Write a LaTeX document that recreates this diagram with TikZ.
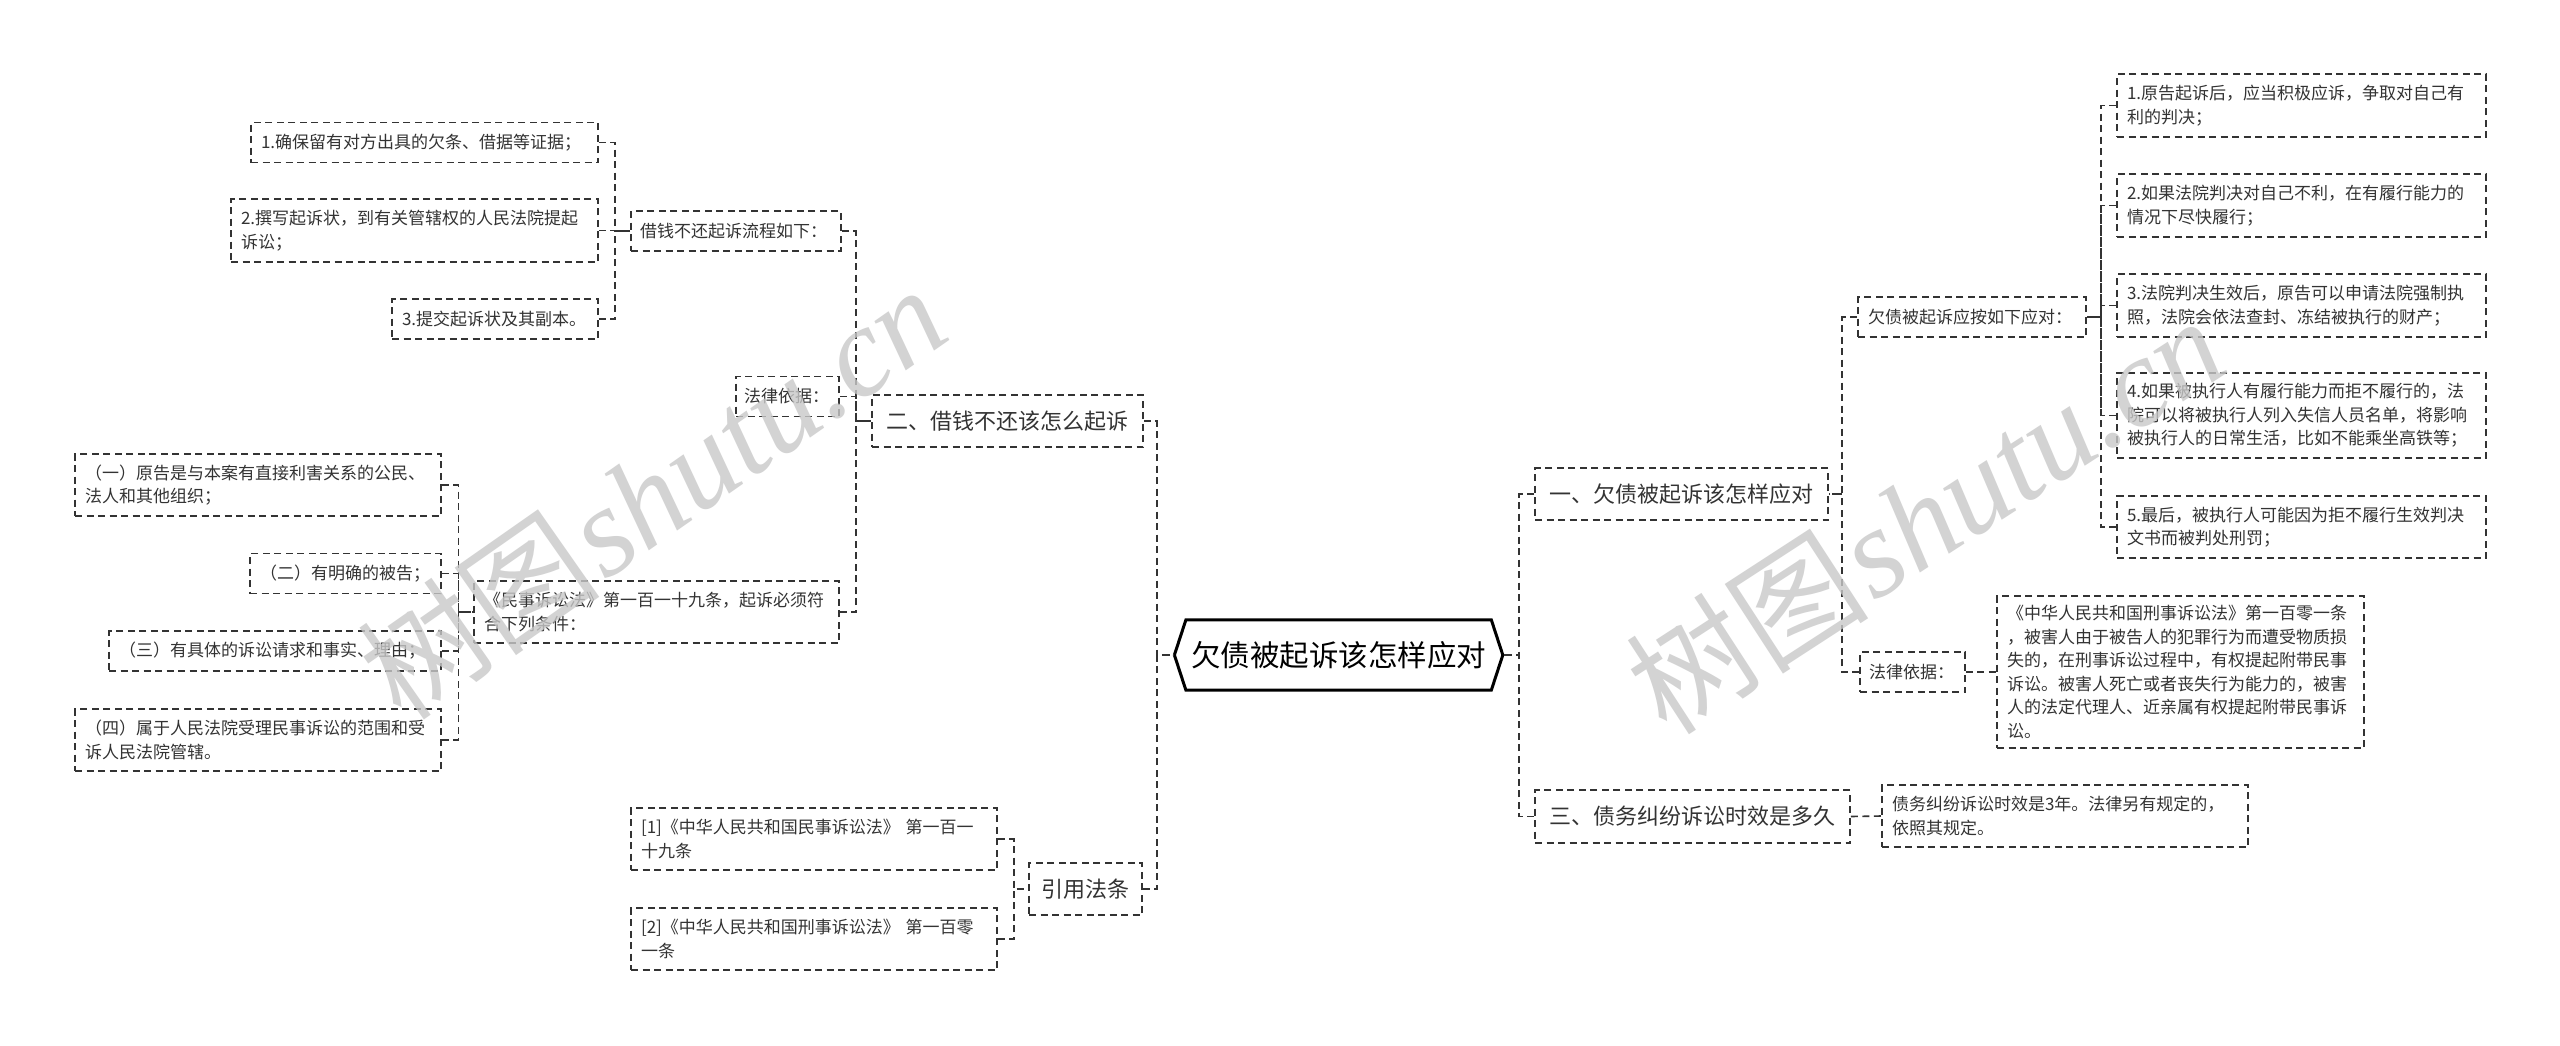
\documentclass[tikz,border=0pt]{standalone}
\usepackage{fontspec}
\newfontfamily\cjk{Noto Sans CJK SC}
\newfontfamily\wmserif{Liberation Serif}
\definecolor{ink}{HTML}{333333}
\definecolor{wm}{HTML}{C8C8C8}
\tikzset{
  bx/.style={draw=ink, line width=1.8pt, dash pattern=on 7pt off 4.5pt, fill=white, text=ink,
    align=left, inner xsep=10pt, inner ysep=4pt, font=\cjk\fontsize{17pt}{23.5pt}\selectfont},
  midbx/.style={bx, inner xsep=14pt, font=\cjk\fontsize{22pt}{28pt}\selectfont},
  sz/.style n args={3}{minimum width=#1pt, minimum height=#2pt, text width=#3pt},
  conn/.style={draw=ink, line width=1.6pt, dash pattern=on 7pt off 4.5pt},
  rootnode/.style={minimum width=328pt, minimum height=70pt, inner sep=0pt, text=black,
    font=\cjk\fontsize{29.5pt}{32pt}\selectfont},
  wmtext/.style={text=wm, opacity=0.8, inner sep=0pt},
}
\begin{document}
\begin{tikzpicture}[x=1pt,y=-1pt]
\fill[white] (0,0) rectangle (2560,1045);
\useasboundingbox (0,0) rectangle (2560,1045);

% root
\node[rootnode] (root) at (1338.6,655) {欠债被起诉该怎样应对};
\draw[line width=3pt, black] (root.west) -- ([xshift=11.5pt]root.north west) -- ([xshift=-11.5pt]root.north east)
  -- (root.east) -- ([xshift=-11.5pt]root.south east) -- ([xshift=11.5pt]root.south west) -- cycle;

% ---------- left ----------
\node[midbx, sz={271}{52}{243}] (L2) at (1007.5,421) {二、借钱不还该怎么起诉};
\node[midbx, inner xsep=12.5pt, sz={113}{52}{88}] (L4) at (1085.5,889) {引用法条};

\node[bx, inner xsep=9pt, sz={210}{40}{192}] (L2a) at (736,231) {借钱不还起诉流程如下：};
\node[bx, inner xsep=8pt, sz={103}{40}{87}] (L2b) at (787.5,396.5) {法律依据：};
\node[bx, sz={365}{62}{345}] (L2c) at (656.5,612) {《民事诉讼法》第一百一十九条，起诉必须符\\合下列条件：};

\node[bx, sz={347}{40}{327}] (a1) at (424.5,142.5) {1.确保留有对方出具的欠条、借据等证据；};
\node[bx, sz={367}{63}{347}] (a2) at (414.5,230.5) {2.撰写起诉状，到有关管辖权的人民法院提起\\诉讼；};
\node[bx, sz={206}{40}{186}] (a3) at (495,319) {3.提交起诉状及其副本。};

\node[bx, sz={366}{62}{346}] (c1) at (258,485) {（一）原告是与本案有直接利害关系的公民、\\法人和其他组织；};
\node[bx, sz={191}{40}{171}] (c2) at (345.5,573.5) {（二）有明确的被告；};
\node[bx, sz={332}{40}{312}] (c3) at (275,651) {（三）有具体的诉讼请求和事实、理由；};
\node[bx, sz={366}{62}{346}] (c4) at (258,740) {（四）属于人民法院受理民事诉讼的范围和受\\诉人民法院管辖。};

\node[bx, sz={366}{62}{346}] (d1) at (814,839) {[1]《中华人民共和国民事诉讼法》 第一百一\\十九条};
\node[bx, sz={366}{62}{346}] (d2) at (814,939) {[2]《中华人民共和国刑事诉讼法》 第一百零\\一条};

% ---------- right ----------
\node[midbx, sz={293}{52}{265}] (R1) at (1681.5,494) {一、欠债被起诉该怎样应对};
\node[midbx, sz={315}{53}{287}] (R3) at (1692.5,816.5) {三、债务纠纷诉讼时效是多久};

\node[bx, sz={228}{40}{208}] (R1a) at (1972,317) {欠债被起诉应按如下应对：};
\node[bx, inner xsep=9pt, sz={105}{40}{87}] (R1b) at (1912.5,672) {法律依据：};

\node[bx, sz={369}{63}{349}] (i1) at (2301.5,105.5) {1.原告起诉后，应当积极应诉，争取对自己有\\利的判决；};
\node[bx, sz={369}{63}{349}] (i2) at (2301.5,205.5) {2.如果法院判决对自己不利，在有履行能力的\\情况下尽快履行；};
\node[bx, sz={369}{63}{349}] (i3) at (2301.5,305.5) {3.法院判决生效后，原告可以申请法院强制执\\照，法院会依法查封、冻结被执行的财产；};
\node[bx, sz={369}{85}{349}] (i4) at (2301.5,415.5) {4.如果被执行人有履行能力而拒不履行的，法\\院可以将被执行人列入失信人员名单，将影响\\被执行人的日常生活，比如不能乘坐高铁等；};
\node[bx, sz={369}{62}{349}] (i5) at (2301.5,527) {5.最后，被执行人可能因为拒不履行生效判决\\文书而被判处刑罚；};

\node[bx, sz={367}{152}{347}] (legal) at (2180.5,672) {《中华人民共和国刑事诉讼法》第一百零一条\\，被害人由于被告人的犯罪行为而遭受物质损\\失的，在刑事诉讼过程中，有权提起附带民事\\诉讼。被害人死亡或者丧失行为能力的，被害\\人的法定代理人、近亲属有权提起附带民事诉\\讼。};
\node[bx, sz={366}{62}{346}] (R3c) at (2065,816) {债务纠纷诉讼时效是3年。法律另有规定的，\\依照其规定。};

% ---------- connectors ----------
\draw[conn] (L2.east) -- ++(13,0) |- (root.west);
\draw[conn] (L4.east) -- ++(14,0) |- (root.west);
\draw[conn] (R1.west) -- ++(-15,0) |- (root.east);
\draw[conn] (R3.west) -- ++(-15,0) |- (root.east);

\draw[conn] (L2a.east) -- ++(14,0) |- (L2.west);
\draw[conn] (L2b.east) -- ++(16,0) |- (L2.west);
\draw[conn] (L2c.east) -- ++(16,0) |- (L2.west);

\draw[conn] (a1.east) -- ++(16,0) |- (L2a.west);
\draw[conn] (a2.east) -- ++(16,0) |- (L2a.west);
\draw[conn] (a3.east) -- ++(16,0) |- (L2a.west);

\draw[conn] (c1.east) -- ++(16.5,0) |- (L2c.west);
\draw[conn] (c2.east) -- ++(16.5,0) |- (L2c.west);
\draw[conn] (c3.east) -- ++(16.5,0) |- (L2c.west);
\draw[conn] (c4.east) -- ++(16.5,0) |- (L2c.west);

\draw[conn] (d1.east) -- ++(16,0) |- (L4.west);
\draw[conn] (d2.east) -- ++(16,0) |- (L4.west);

\draw[conn] (R1a.west) -- ++(-15,0) |- (R1.east);
\draw[conn] (R1b.west) -- ++(-17,0) |- (R1.east);

\draw[conn] (i1.west) -- ++(-15,0) |- (R1a.east);
\draw[conn] (i2.west) -- ++(-15,0) |- (R1a.east);
\draw[conn] (i3.west) -- ++(-15,0) |- (R1a.east);
\draw[conn] (i4.west) -- ++(-15,0) |- (R1a.east);
\draw[conn] (i5.west) -- ++(-15,0) |- (R1a.east);

\draw[conn] (R1b.east) -- (legal.west);
\draw[conn] (R3.east) -- (R3c.west);

% ---------- watermark ----------
\node[wmtext, rotate=35] (wm1) at (652,492) {{\cjk\fontsize{122pt}{126pt}\selectfont 树图} {\wmserif\itshape\fontsize{127pt}{131pt}\selectfont shutu.cn}};
\node[wmtext, rotate=33] (wm2) at (1925,515) {{\cjk\fontsize{122pt}{126pt}\selectfont 树图} {\wmserif\itshape\fontsize{127pt}{131pt}\selectfont shutu.cn}};
\end{tikzpicture}
\end{document}
